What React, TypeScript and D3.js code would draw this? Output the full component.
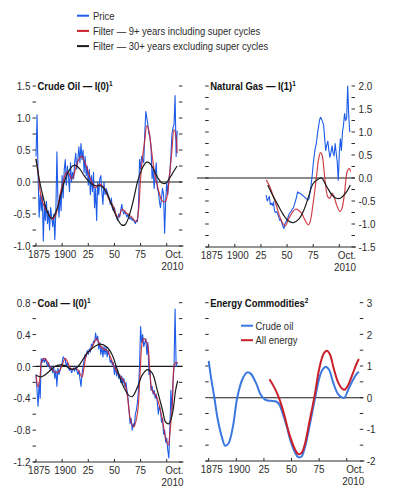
import React from 'react';
import * as d3 from 'd3';

// ---- data (deviations from trend) ----
const oilStart = 1875;
const oilPrice = [
  0.40, 1.05, 0.10, -0.55, -0.20, -0.45, -0.20, -0.92, -0.35, -0.60,
  -0.30, -0.65, -0.45, -0.75, -0.40, -0.55, -0.70, -0.50, -0.90, -0.45,
  0.47, -0.30, -0.55, -0.20, -0.45, 0.10, -0.25, 0.20, 0.35, -0.05,
  0.25, 0.10, -0.15, 0.30, 0.00, 0.15, 0.05, 0.30, 0.45, 0.20,
  0.35, 0.55, 0.30, 0.60, 0.35, 0.50, 0.15, 0.40, 0.10, 0.25,
  -0.05, 0.20, -0.20, 0.10, -0.15, 0.15, -0.40, -0.10, -0.60, 0.00,
  -0.20, 0.05, 0.10, -0.15, -0.35, 0.00, -0.20, -0.10, -0.15, -0.20,
  -0.25, -0.35, -0.25, -0.40, -0.45, -0.40, -0.50, -0.55, -0.60, -0.50,
  -0.55, -0.45, -0.35, -0.45, -0.50, -0.45, -0.50, -0.55, -0.50, -0.55,
  -0.58, -0.55, -0.60, -0.58, -0.62, -0.65, -0.60, -0.62, -0.40, 0.35,
  0.20, 0.40, 0.35, 0.30, 0.75, 1.10, 1.00, 0.90, 0.75, 0.70,
  0.55, 0.05, 0.20, -0.10, 0.10, 0.30, -0.10, -0.15, -0.30, -0.40,
  -0.25, -0.10, -0.20, -0.80, -0.30, 0.00, -0.20, 0.05, 0.15, 0.40,
  0.75, 0.85, 0.90, 1.35, 0.40, 0.80,
];
const oilShort: [number, number][] = [
  [1875, 0.36], [1877, 0.15], [1879, -0.15], [1881, -0.30], [1883, -0.38], [1885, -0.45],
  [1887, -0.50], [1889, -0.55], [1891, -0.58], [1893, -0.55], [1895, -0.45], [1897, -0.30],
  [1899, -0.12], [1901, 0.00], [1903, 0.12], [1905, 0.16], [1907, 0.12], [1909, 0.05],
  [1911, 0.10], [1913, 0.22], [1915, 0.32], [1917, 0.38], [1919, 0.40], [1921, 0.33],
  [1923, 0.25], [1925, 0.15], [1927, 0.05], [1929, -0.02], [1931, -0.08], [1933, -0.08],
  [1935, -0.04], [1937, -0.04], [1939, -0.07], [1941, -0.12], [1943, -0.20], [1945, -0.28],
  [1947, -0.33], [1949, -0.38], [1951, -0.48], [1953, -0.55], [1955, -0.52], [1957, -0.43],
  [1959, -0.44], [1961, -0.48], [1963, -0.50], [1965, -0.53], [1967, -0.56], [1969, -0.60],
  [1971, -0.62], [1973, -0.45], [1975, 0.05], [1977, 0.40], [1979, 0.65], [1981, 0.88],
  [1983, 0.80], [1985, 0.55], [1987, 0.30], [1989, 0.08], [1991, -0.05], [1993, -0.18],
  [1995, -0.28], [1997, -0.31], [1999, -0.30], [2001, -0.15], [2003, 0.15], [2005, 0.50],
  [2007, 0.82], [2009, 0.70], [2010, 0.45],
];
const oilLong: [number, number][] = [
  [1875, 0.36], [1878, 0.05], [1882, -0.25], [1886, -0.47], [1890, -0.57], [1894, -0.47],
  [1898, -0.25], [1902, 0.00], [1906, 0.16], [1910, 0.25], [1913, 0.26], [1917, 0.20],
  [1921, 0.10], [1925, 0.02], [1929, -0.04], [1933, -0.06], [1937, -0.06], [1941, -0.12],
  [1945, -0.26], [1949, -0.43], [1953, -0.58], [1957, -0.67], [1960, -0.67], [1963, -0.58],
  [1966, -0.42], [1969, -0.22], [1972, 0.00], [1975, 0.15], [1978, 0.26], [1981, 0.31],
  [1984, 0.29], [1987, 0.21], [1990, 0.11], [1993, 0.03], [1996, -0.02], [1999, -0.02],
  [2002, 0.04], [2005, 0.12], [2008, 0.20], [2010, 0.25],
];

const gasStart = 1930;
const gasPrice = [
  -0.37, -0.50, -0.45, -0.40, -0.58, -0.55, -0.60, -0.52, -0.72, -0.75,
  -0.73, -0.78, -0.85, -0.92, -0.90, -0.98, -1.05, -1.10, -1.00, -0.95,
  -0.90, -0.85, -0.78, -0.75, -0.72, -0.68, -0.65, -0.58, -0.50, -0.42,
  -0.30, -0.33, -0.32, -0.35, -0.36, -0.38, -0.40, -0.42, -0.44, -0.46,
  -0.48, -0.45, -0.30, -0.15, 0.05, 0.30, 0.50, 0.65, 0.75, 0.95,
  1.10, 1.25, 1.32, 1.28, 1.22, 1.15, 0.85, 0.60, 0.72, 0.80,
  0.60, 0.45, 0.55, 0.70, 0.55, 0.48, 0.75, 0.55, 0.35, -0.05,
  0.55, 0.85, 0.60, 1.00, 1.15, 1.40, 1.25, 1.30, 2.00, 1.35,
  1.00,
];
const gasShort: [number, number][] = [
  [1930, -0.04], [1933.5, -0.19], [1937, -0.41], [1940, -0.62], [1943, -0.84], [1946, -0.99],
  [1948.5, -1.04], [1951, -0.91], [1954.5, -0.77], [1958, -0.68], [1961, -0.70], [1964, -0.77],
  [1967, -0.91], [1970.5, -1.02], [1972.5, -0.91], [1974.5, -0.62], [1977, -0.19], [1978.5, 0.10],
  [1980, 0.39], [1982, 0.55], [1983.5, 0.50], [1985, 0.25], [1986.5, -0.08], [1989, -0.41],
  [1991, -0.44], [1993, -0.33], [1995, -0.41], [1997.5, -0.59], [2000.5, -0.73], [2002.5, -0.66],
  [2005, -0.33], [2007.5, 0.14], [2009.5, 0.21], [2010.8, 0.14],
];
const gasLong: [number, number][] = [
  [1931.5, -0.15], [1937, -0.41], [1942, -0.62], [1946.5, -0.80], [1951, -0.93], [1956, -0.97],
  [1961, -0.90], [1966, -0.70], [1970.5, -0.41], [1975, -0.12], [1980, -0.02], [1983, 0.00],
  [1988, -0.19], [1993, -0.37], [1997, -0.44], [2001, -0.44], [2006, -0.33], [2010.5, -0.15],
];

const coalStart = 1875;
const coalPrice = [
  -0.10, -0.30, -0.50, -0.20, -0.40, 0.10, 0.05, 0.10, 0.05, 0.10,
  0.05, 0.00, 0.05, -0.02, -0.05, 0.00, -0.08, -0.02, -0.15, -0.05,
  -0.25, -0.02, -0.10, -0.05, 0.00, 0.05, 0.12, 0.10, 0.08, 0.00,
  0.05, -0.02, -0.05, -0.02, -0.08, -0.05, -0.02, -0.06, 0.00, -0.05,
  -0.10, -0.05, -0.15, -0.25, -0.10, 0.00, 0.08, 0.15, 0.12, 0.20,
  0.15, 0.22, 0.18, 0.28, 0.25, 0.32, 0.30, 0.42, 0.33, 0.38,
  0.22, 0.30, 0.15, 0.25, 0.12, 0.25, 0.15, 0.25, 0.12, 0.20,
  0.15, 0.05, 0.08, 0.02, 0.05, -0.10, 0.02, -0.12, -0.05, -0.15,
  -0.10, -0.20, -0.12, -0.22, -0.15, -0.25, -0.20, -0.30, -0.40, -0.55,
  -0.72, -0.65, -0.80, -0.72, -0.75, -0.60, -0.55, -0.45, -0.30, 0.00,
  0.50, 0.30, 0.40, 0.25, 0.30, 0.35, 0.15, 0.30, -0.10, -0.05,
  -0.30, -0.25, -0.35, -0.30, -0.40, -0.35, -0.45, -0.60, -0.50, -0.55,
  -0.70, -0.65, -0.85, -0.80, -0.95, -0.90, -1.05, -1.15, -0.80, -0.30,
  -0.55, -0.20, 0.00, 0.72, 0.00, 0.05,
];
const coalShort: [number, number][] = [
  [1875, -0.11], [1877, -0.26], [1879, -0.11], [1880.5, 0.07], [1883.5, 0.10], [1887, 0.03],
  [1890, -0.03], [1893, -0.07], [1896.5, -0.07], [1899.5, 0.00], [1903, 0.10], [1906, 0.03],
  [1909, -0.04], [1912.5, -0.02], [1915.5, -0.05], [1919, -0.13], [1921, -0.01], [1923.5, 0.16],
  [1927, 0.20], [1930, 0.28], [1933, 0.35], [1936.5, 0.26], [1939.5, 0.22], [1943, 0.20],
  [1946, 0.12], [1949.5, 0.01], [1952.5, -0.07], [1956, -0.13], [1959, -0.18], [1962, -0.34],
  [1965.5, -0.68], [1968.5, -0.76], [1972, -0.59], [1974.5, -0.09], [1976.5, 0.30], [1978, 0.35],
  [1981.5, 0.28], [1984, -0.09], [1986, -0.30], [1989.5, -0.36], [1992.5, -0.47], [1996, -0.68],
  [1999, -0.90], [2001.5, -0.99], [2003, -0.84], [2005.5, -0.43], [2007, 0.00], [2008.5, 0.05],
  [2010.5, 0.04],
];
const coalLong: [number, number][] = [
  [1875, -0.11], [1880.5, -0.13], [1887, -0.07], [1893, 0.00], [1898, 0.02], [1903, 0.01],
  [1908, -0.03], [1912.5, -0.03], [1917, 0.03], [1923.5, 0.16], [1930, 0.24], [1936.5, 0.28],
  [1943, 0.24], [1948, 0.14], [1952.5, -0.03], [1957.5, -0.22], [1963.5, -0.36], [1967, -0.38],
  [1972, -0.26], [1976.5, -0.11], [1981.5, -0.04], [1986, -0.08], [1991, -0.30], [1996, -0.55],
  [1999, -0.70], [2002, -0.72], [2005.5, -0.59], [2008.5, -0.30], [2010.5, -0.18],
];

const energyCrude: [number, number][] = [
  [1875, 1.16], [1877, 0.66], [1880, 0.03], [1883, -0.65], [1887, -1.25], [1890, -1.52],
  [1893, -1.44], [1897, -0.90], [1901, 0.03], [1906, 0.62], [1910, 0.80], [1913, 0.76],
  [1918, 0.45], [1922, 0.10], [1926, -0.06], [1931, -0.10], [1936, -0.12], [1939, -0.22],
  [1942, -0.50], [1946, -0.95], [1949, -1.35], [1953, -1.72], [1956, -1.88], [1959, -1.86],
  [1962, -1.58], [1966, -0.95], [1971, -0.07], [1975, 0.60], [1978, 0.88], [1981, 0.98],
  [1984, 0.88], [1988, 0.45], [1992, 0.12], [1996, 0.00], [1998, 0.00], [2001, 0.22],
  [2005, 0.52], [2009, 0.75], [2011, 0.82],
];
const energyAll: [number, number][] = [
  [1930, 0.58], [1934, 0.35], [1938, 0.05], [1941, -0.25], [1944, -0.62], [1948, -1.15],
  [1953, -1.62], [1956, -1.78], [1959, -1.75], [1962, -1.48], [1966, -0.80], [1971, 0.08],
  [1975, 0.90], [1979, 1.38], [1982, 1.48], [1985, 1.35], [1988, 0.95], [1992, 0.50],
  [1996, 0.28], [1998, 0.25], [2001, 0.38], [2005, 0.72], [2009, 1.08], [2011, 1.22],
];

const yearTicks = [1875, 1900, 1925, 1950, 1975, 2000];
const yearLabels = ['1875', '1900', '25', '50', '75'];
const legendTop = ['Price', 'Filter — 9+ years including super cycles', 'Filter — 30+ years excluding super cycles'];
const legendEnergy = ['Crude oil', 'All energy'];

const FONT = '"Liberation Sans", Arial, sans-serif';
const SX = 0.86; // narrow face
const INK = '#2b2b2b';
const BLUE = '#1d5ce8';
const RED = '#c8202a';
const BLACK = '#1a1a1a';
const EBLUE = '#3a78e0';

const toPts = (start: number, vals: number[]): [number, number][] => vals.map((v, i) => [start + i, v]);

// narrow text: Arial metrics squeezed horizontally
function T(props: any) {
  const { x, y, anchor = 'start', size = 11.5, weight, fill = INK, dy, children } = props;
  return (
    <text transform={`translate(${x},${y}) scale(${SX},1)`} textAnchor={anchor} fontSize={size}
      fontWeight={weight} fill={fill} dy={dy} fontFamily={FONT}>{children}</text>
  );
}

type Series = { pts: [number, number][]; color: string; width: number; smooth: boolean; opacity?: number };

function Panel(props: any) {
  const { title, sup, left, right, top, bottom, domain, major, minor, side, digits, series, zeroFrom } = props;
  const x = d3.scaleLinear().domain([1875, 2015]).range([left, right]);
  const y = d3.scaleLinear().domain(domain).range([bottom, top]);
  const minorTicks = d3.range(domain[0], domain[1] + 1e-6, minor);
  const majorTicks = d3.range(domain[0], domain[1] + 1e-6, major);
  const fmt = (v: number) => (Math.abs(v) < 1e-9 ? 0 : v).toFixed(digits);
  return (
    <g>
      {minorTicks.map((t, i) => (
        <g key={'m' + i} stroke={INK} strokeWidth={1}>
          <line x1={left - 3.5} x2={left} y1={y(t)} y2={y(t)} />
          <line x1={right - 3.5} x2={right} y1={y(t)} y2={y(t)} />
        </g>
      ))}
      {majorTicks.map((t, i) => (
        <T key={'l' + i} x={side === 'left' ? left - 5.5 : right + 3.5} y={y(t)} dy="0.36em"
          anchor={side === 'left' ? 'end' : 'start'}>{fmt(t)}</T>
      ))}
      <line x1={zeroFrom ?? left} x2={right} y1={y(0)} y2={y(0)} stroke={BLACK} strokeWidth={1.1} />
      <line x1={left - 3} x2={right + 1} y1={bottom} y2={bottom} stroke={INK} strokeWidth={1} />
      {yearTicks.map((t, i) => (
        <line key={'x' + i} x1={x(t)} x2={x(t)} y1={bottom} y2={bottom - 3} stroke={INK} />
      ))}
      {yearLabels.map((lab, i) => (
        <T key={'xl' + i} x={x(yearTicks[i]) + (lab.length > 2 ? 3 : 0)} y={bottom + 12} anchor="middle">{lab}</T>
      ))}
      <T x={right + 1} y={bottom + 12} anchor="end">Oct.</T>
      <T x={right + 1} y={bottom + 23.5} anchor="end">2010</T>
      {series.map((s: Series, i: number) => {
        const line = d3.line<[number, number]>()
          .x(d => x(d[0]))
          .y(d => y(d[1]))
          .curve(s.smooth ? d3.curveCatmullRom.alpha(0.5) : d3.curveLinear);
        return <path key={'s' + i} d={line(s.pts) || ''} fill="none" stroke={s.color}
          strokeWidth={s.width} strokeOpacity={s.opacity ?? 1} strokeLinejoin="round" />;
      })}
      <T x={left + 1.5} y={top} dy="0.36em" size={11} weight="bold" fill="#111">
        {title}<tspan fontSize={7.5} dy={-4}>{sup}</tspan>
      </T>
    </g>
  );
}

export default function App() {
  const legendColors = [BLUE, RED, BLACK];
  return (
    <svg width={396} height={493} style={{ position: 'absolute', left: 0, top: 0, background: '#fff' }}>
      <rect width={396} height={493} fill="#fff" />
      {legendTop.map((t, i) => (
        <g key={t}>
          <line x1={77} x2={89} y1={15.7 + i * 15.2} y2={15.7 + i * 15.2} stroke={legendColors[i]} strokeWidth={2} />
          <T x={93} y={15.7 + i * 15.2} dy="0.36em" size={11}>{t}</T>
        </g>
      ))}
      <Panel title="Crude Oil — I(0)" sup="1" left={36} right={182.4} top={86} bottom={246}
        domain={[-1, 1.5]} major={0.5} minor={0.25} side="left" digits={1}
        series={[
          { pts: toPts(oilStart, oilPrice), color: BLUE, width: 1.1, smooth: false },
          { pts: oilShort, color: RED, width: 1.2, smooth: true, opacity: 0.85 },
          { pts: oilLong, color: BLACK, width: 1.2, smooth: true },
        ]} />
      <Panel title="Natural Gas — I(1)" sup="1" left={208.7} right={355} top={86} bottom={247}
        domain={[-1.5, 2]} major={0.5} minor={0.25} side="right" digits={1} zeroFrom={197}
        series={[
          { pts: toPts(gasStart, gasPrice), color: BLUE, width: 1.1, smooth: false },
          { pts: gasShort, color: RED, width: 1.2, smooth: true, opacity: 0.85 },
          { pts: gasLong, color: BLACK, width: 1.2, smooth: true },
        ]} />
      <Panel title="Coal — I(0)" sup="1" left={36} right={182.4} top={302.7} bottom={462}
        domain={[-1.2, 0.8]} major={0.4} minor={0.2} side="left" digits={1}
        series={[
          { pts: toPts(coalStart, coalPrice), color: BLUE, width: 1.1, smooth: false },
          { pts: coalShort, color: RED, width: 1.2, smooth: true, opacity: 0.85 },
          { pts: coalLong, color: BLACK, width: 1.2, smooth: true },
        ]} />
      <Panel title="Energy Commodities" sup="2" left={208.7} right={363.3} top={302.7} bottom={461}
        domain={[-2, 3]} major={1} minor={0.5} side="right" digits={0}
        series={[
          { pts: energyCrude, color: EBLUE, width: 2, smooth: true },
          { pts: energyAll, color: RED, width: 2, smooth: true },
        ]} />
      {legendEnergy.map((t, i) => (
        <g key={t}>
          <line x1={241} x2={253} y1={325.7 + i * 14.5} y2={325.7 + i * 14.5} stroke={i === 0 ? EBLUE : RED} strokeWidth={2} />
          <T x={255.5} y={325.7 + i * 14.5} dy="0.36em" size={11}>{t}</T>
        </g>
      ))}
    </svg>
  );
}
